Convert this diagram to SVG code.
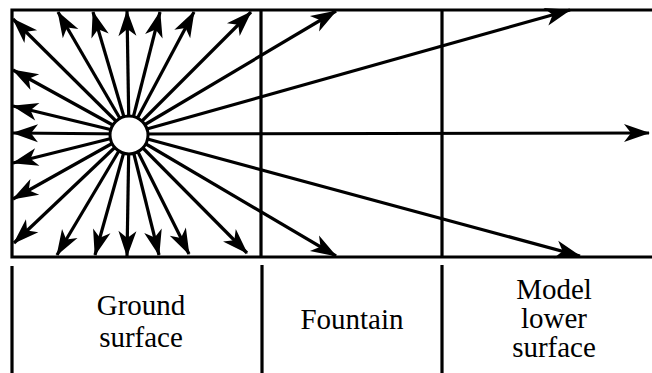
<svg xmlns="http://www.w3.org/2000/svg" width="652" height="373" viewBox="0 0 652 373">
<style>
.ln{stroke:#000;stroke-width:3.2;fill:none}
.ar{stroke:#000;stroke-width:3.2;fill:none;marker-end:url(#ah)}
text{font-family:"Liberation Serif","Times New Roman",serif;font-size:29px;fill:#000;text-anchor:middle}
</style>
<defs>
<marker id="ah" markerUnits="userSpaceOnUse" viewBox="-27 -11 29 22" refX="0" refY="0" markerWidth="29" markerHeight="22" orient="auto">
<path d="M1,0 L-25,-9 L-18,0 L-25,9 Z" fill="#000"/>
</marker>
</defs>
<rect width="652" height="373" fill="#fff"/>
<g id="frame">
<path class="ln" d="M660,10 L12,10 L12,257 L660,257"/>
<line class="ln" x1="261" y1="10" x2="261" y2="257"/>
<line class="ln" x1="442" y1="10" x2="442" y2="257"/>
</g>
<g id="connectors">
<line class="ar" x1="129" y1="134" x2="649" y2="133"/>
<line class="ar" x1="129" y1="134" x2="570" y2="10"/>
<line class="ar" x1="129" y1="134" x2="336" y2="11"/>
<line class="ar" x1="129" y1="134" x2="251" y2="12"/>
<line class="ar" x1="129" y1="134" x2="194" y2="12"/>
<line class="ar" x1="129" y1="134" x2="160" y2="12"/>
<line class="ar" x1="129" y1="134" x2="127" y2="11"/>
<line class="ar" x1="129" y1="134" x2="93" y2="12"/>
<line class="ar" x1="129" y1="134" x2="58" y2="12"/>
<line class="ar" x1="129" y1="134" x2="13" y2="19"/>
<line class="ar" x1="129" y1="134" x2="13" y2="70"/>
<line class="ar" x1="129" y1="134" x2="13" y2="106"/>
<line class="ar" x1="129" y1="134" x2="13" y2="133"/>
<line class="ar" x1="129" y1="134" x2="13" y2="163"/>
<line class="ar" x1="129" y1="134" x2="13" y2="199"/>
<line class="ar" x1="129" y1="134" x2="14" y2="243"/>
<line class="ar" x1="129" y1="134" x2="57" y2="255"/>
<line class="ar" x1="129" y1="134" x2="95" y2="255"/>
<line class="ar" x1="129" y1="134" x2="127" y2="256"/>
<line class="ar" x1="129" y1="134" x2="159" y2="255"/>
<line class="ar" x1="129" y1="134" x2="189" y2="254"/>
<line class="ar" x1="129" y1="134" x2="247" y2="253"/>
<line class="ar" x1="129" y1="134" x2="336" y2="256"/>
<line class="ar" x1="129" y1="134" x2="580" y2="256"/>
</g>
<g id="source">
<circle cx="129" cy="135" r="19" fill="#fff" stroke="#000" stroke-width="3"/>
</g>
<g id="separators">
<line class="ln" x1="12" y1="266" x2="12" y2="373"/>
<line class="ln" x1="262" y1="265" x2="262" y2="373"/>
<line class="ln" x1="442" y1="265" x2="442" y2="373"/>
</g>
<g id="label-ground">
<text x="141" y="315">Ground</text>
<text x="141" y="347">surface</text>
</g>
<g id="label-fountain">
<text x="352" y="329">Fountain</text>
</g>
<g id="label-model">
<text x="554" y="299">Model</text>
<text x="554" y="328">lower</text>
<text x="554" y="357">surface</text>
</g>
</svg>
